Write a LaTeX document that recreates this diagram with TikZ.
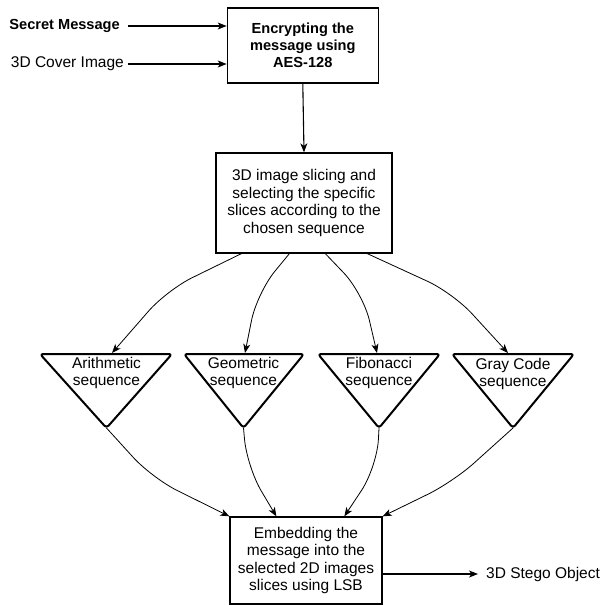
\documentclass[tikz,border=0pt]{standalone}
\usepackage{fontspec}
\setmainfont{Liberation Sans}
\usetikzlibrary{arrows.meta,calc}
\begin{document}
\begin{tikzpicture}[x=1pt,y=-1pt,
  box/.style={draw=black, line width=1.3pt, fill=white, align=center, inner sep=0pt, font=\fontsize{15.5}{17.6}\selectfont},
  boldtxt/.style={font=\bfseries\fontsize{14.6}{17}\selectfont},
  tri/.style={draw=black, line width=2pt, rounded corners=3pt, line join=round},
  arr/.style={-{Stealth[length=9pt,width=7pt,inset=2.5pt]}, line width=1.1pt},
  conn/.style={-{Stealth[length=9pt,width=7pt,inset=2.5pt]}, line width=0.8pt, rounded corners=28pt},
  lbl/.style={inner ysep=0pt, font=\fontsize{15.5}{17.6}\selectfont}]
\useasboundingbox (0,0) rectangle (604,605);

% boxes
\node[box, boldtxt, minimum width=151pt, minimum height=75pt] (b1) at (302.8,45.5) {Encrypting the\\message using\\AES-128};
\node[box, minimum width=176pt, minimum height=100pt] (b2) at (304,203) {3D image slicing and\\selecting the specific\\slices according to the\\chosen sequence};
\node[box, minimum width=152pt, minimum height=87pt] (b3) at (306,560.5) {Embedding the\\message into the\\selected 2D images\\slices using LSB};

% inputs
\node[lbl, boldtxt, anchor=east, inner xsep=8pt] (sm) at (128,26) {Secret Message};
\node[lbl, anchor=east, inner xsep=4pt] (ci) at (128,64) {3D Cover Image};
\draw[arr] (sm.east) -- (sm.east -| b1.west);
\draw[arr] (ci.east) -- (ci.east -| b1.west);
\draw[arr] (b1.south) -- (b2.north);

% triangles
\coordinate (t1L) at (40,354);  \coordinate (t1R) at (172,354); \coordinate (t1B) at (106.5,428);
\coordinate (t2L) at (184,354); \coordinate (t2R) at (304,354); \coordinate (t2B) at (243.5,428);
\coordinate (t3L) at (318,354); \coordinate (t3R) at (440,354); \coordinate (t3B) at (379,428);
\coordinate (t4L) at (452,354); \coordinate (t4R) at (574,354); \coordinate (t4B) at (513,428);
\draw[tri] (t1L) -- (t1R) -- (t1B) -- cycle;
\draw[tri] (t2L) -- (t2R) -- (t2B) -- cycle;
\draw[tri] (t3L) -- (t3R) -- (t3B) -- cycle;
\draw[tri] (t4L) -- (t4R) -- (t4B) -- cycle;
\node[lbl, align=center] (n1) at (106.5,373) {Arithmetic\\sequence};
\node[lbl, align=center] (n2) at (243.5,373) {Geometric\\sequence};
\node[lbl, align=center] (n3) at (379,373) {Fibonacci\\sequence};
\node[lbl, align=center] (n4) at (513,374) {Gray Code\\sequence};

\coordinate (t1in) at (112,353);
\coordinate (t2in) at (245,353);
\coordinate (t3in) at (377,353);
\coordinate (t4in) at (508,353);

% connectors from slicing box
\draw[conn] ([xshift=26pt]b2.south west) -- (167,290) -- (t1in);
\draw[conn] ([xshift=74pt]b2.south west) -- (257,293) -- (t2in);
\draw[conn] ([xshift=110pt]b2.south west) -- (363,293) -- (t3in);
\draw[conn] ([xshift=152pt]b2.south west) -- (453,293) -- (t4in);

% connectors into embedding box
\draw[conn] (t1B) -- (152,478) -- (b3.north west);
\draw[conn] (t2B) -- (247,467) -- ([xshift=47pt]b3.north west);
\draw[conn] (t3B) -- (377,467) -- ([xshift=115pt]b3.north west);
\draw[conn] (t4B) -- (453,482) -- (b3.north east);

% output
\node[lbl, anchor=west, inner xsep=8pt] (so) at (478,574) {3D Stego Object};
\draw[arr] (b3.east |- so.west) -- (so.west);
\end{tikzpicture}
\end{document}
